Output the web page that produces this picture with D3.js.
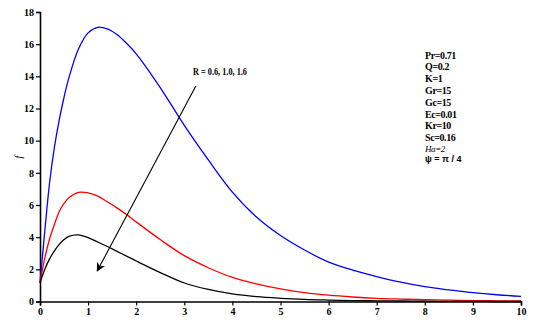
<!DOCTYPE html>
<html>
<head>
<meta charset="utf-8">
<script src="https://cdn.jsdelivr.net/npm/d3@7"></script>
<style>
  body { margin: 0; background: #fff; }
  svg { display: block; }
  .tick text { font-family: "Liberation Serif", serif; font-weight: bold; font-size: 10px; }
</style>
</head>
<body>
<svg id="mainsvg" width="549" height="326"></svg>
<script>
// eta values (x axis)
var etaVals = [0, 0.1, 0.2, 0.3, 0.4, 0.5, 0.6, 0.8, 1.0, 1.2, 1.4, 1.6, 1.8, 2.0,
  2.5, 3.0, 3.5, 4.0, 4.5, 5.0, 5.5, 6.0, 6.5, 7.0, 7.5, 8.0, 8.5, 9.0, 9.5, 10];
// f for R = 0.6 (blue), 1.0 (red), 1.6 (black)
var fR06 = [1.15, 4.4, 7.4, 9.6, 11.3, 12.7, 13.9, 15.7, 16.7, 17.05, 16.95, 16.6, 16.05, 15.4,
  13.3, 10.95, 8.8, 6.8, 5.25, 4.1, 3.2, 2.45, 1.95, 1.55, 1.2, 0.92, 0.72, 0.55, 0.42, 0.32];
var fR10 = [1.15, 2.7, 3.9, 4.8, 5.6, 6.1, 6.45, 6.78, 6.75, 6.55, 6.2, 5.82, 5.4, 4.95,
  3.85, 2.85, 2.1, 1.5, 1.1, 0.78, 0.55, 0.39, 0.28, 0.2, 0.15, 0.11, 0.08, 0.06, 0.04, 0.03];
var fR16 = [1.15, 2.0, 2.65, 3.15, 3.55, 3.85, 4.05, 4.14, 3.97, 3.7, 3.42, 3.12, 2.82, 2.52,
  1.8, 1.15, 0.75, 0.47, 0.3, 0.2, 0.13, 0.09, 0.06, 0.04, 0.03, 0.02, 0.01, 0.01, 0.0, 0.0];
var seriesColors = ["#0000ff", "#ff0000", "#000000"];
var xTicks = [0, 1, 2, 3, 4, 5, 6, 7, 8, 9, 10];
var yTicks = [0, 2, 4, 6, 8, 10, 12, 14, 16, 18];
var paramLines = ["Pr=0.71", "Q=0.2", "K=1", "Gr=15", "Gc=15", "Ec=0.01", "Kr=10", "Sc=0.16"];
var rLabel = "R = 0.6, 1.0, 1.6";
// arrow annotation, data coords [x, y]
var arrowFrom = [3.24, 13.4], arrowTo = [1.19, 1.9];

var svg = d3.select("#mainsvg");
var x = d3.scaleLinear().domain([0, 10]).range([40, 521]);
var y = d3.scaleLinear().domain([0, 18]).range([301.5, 12]);

var xAxis = svg.append("g")
  .attr("transform", "translate(0," + y(0) + ")")
  .call(d3.axisBottom(x).tickValues(xTicks).tickSize(4).tickPadding(2).tickFormat(d3.format("d")));
var yAxis = svg.append("g")
  .attr("transform", "translate(" + x(0) + ",0)")
  .call(d3.axisLeft(y).tickValues(yTicks).tickSize(4).tickPadding(2).tickFormat(d3.format("d")));
[xAxis, yAxis].forEach(function (a) {
  a.select(".domain").attr("stroke", "#000").attr("stroke-width", 1.6);
  a.selectAll(".tick line").attr("stroke", "#000").attr("stroke-width", 1.2);
  a.selectAll(".tick text").attr("fill", "#000");
});

var line = d3.line()
  .x(function (d) { return x(d[0]); })
  .y(function (d) { return y(d[1]); })
  .curve(d3.curveCatmullRom.alpha(0.5));

[fR06, fR10, fR16].forEach(function (vals, i) {
  svg.append("path")
    .datum(etaVals.map(function (e, j) { return [e, vals[j]]; }))
    .attr("d", line)
    .attr("fill", "none")
    .attr("stroke", seriesColors[i])
    .attr("stroke-width", 1.3);
});

// y label
svg.append("text")
  .attr("transform", "translate(22,157) rotate(-90)")
  .attr("text-anchor", "middle")
  .style("font-family", "Liberation Serif, serif")
  .style("font-style", "italic")
  .style("font-size", "10px")
  .text("f");

// arrow
svg.append("defs").append("marker")
  .attr("id", "arr")
  .attr("viewBox", "0 0 10 10")
  .attr("refX", 9).attr("refY", 5)
  .attr("markerWidth", 9).attr("markerHeight", 9)
  .attr("markerUnits", "userSpaceOnUse")
  .attr("orient", "auto")
  .append("path")
  .attr("d", "M0,0 L10,5 L0,10 L3,5 Z")
  .attr("fill", "#000");
svg.append("line")
  .attr("x1", x(arrowFrom[0])).attr("y1", y(arrowFrom[1]))
  .attr("x2", x(arrowTo[0])).attr("y2", y(arrowTo[1]))
  .attr("stroke", "#000").attr("stroke-width", 1.1)
  .attr("marker-end", "url(#arr)");

svg.append("text")
  .attr("x", 193).attr("y", 75)
  .attr("textLength", 54).attr("lengthAdjust", "spacingAndGlyphs")
  .style("font-family", "Liberation Serif, serif")
  .style("font-weight", "bold")
  .style("font-size", "10px")
  .text(rLabel);

// parameter list
var params = svg.append("g")
  .style("font-family", "Liberation Serif, serif")
  .style("font-weight", "bold")
  .style("font-size", "10px");
paramLines.forEach(function (t, i) {
  params.append("text")
    .attr("x", 425).attr("y", 58.5 + i * 11.8)
    .style("letter-spacing", "-0.4px")
    .text(t);
});
params.append("text")
  .attr("x", 425).attr("y", 152)
  .style("font-style", "italic")
  .style("font-weight", "normal")
  .style("font-size", "9px")
  .style("letter-spacing", "-0.4px")
  .text("Ha=2");
params.append("text")
  .attr("x", 425).attr("y", 161.5)
  .style("font-family", "Liberation Sans, Arial, sans-serif")
  .style("font-size", "9px")
  .text("ψ = π / 4");
</script>
</body>
</html>
